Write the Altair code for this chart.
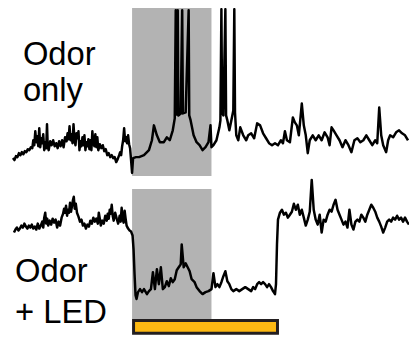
import altair as alt
import pandas as pd

# ---- data (x: time in px-like units, y: voltage in px-like units, larger = lower) ----
top_x = [13, 14.5, 16, 17.5, 19, 20.5, 22, 23.5, 25, 26.5, 28, 29.5, 31, 32.5, 33.5, 34.5, 35.5, 36.5, 37.5,
         38.5, 39.5, 40.5, 41.5, 42.5, 43.5, 44.5, 45.5, 46.5, 47.3, 48, 49, 50.5, 52, 53.5, 55, 56.5, 58, 59.5,
         61, 62.5, 64, 65.5, 67, 68, 69, 70, 71, 72, 73, 74, 75, 76, 77, 78, 79, 80, 81, 82, 83, 84, 85, 86, 87,
         88, 89, 90, 91, 92, 93, 94, 95, 96, 97, 98, 99, 100.5, 102, 103.5, 105, 106.5, 108, 109.5, 111, 112.5,
         114, 115.5, 117, 118.5, 120, 121, 122, 123, 124, 125, 126, 127, 128, 129, 130, 131, 132, 133, 134,
         137, 140, 145, 150, 153, 155, 158, 161, 165, 168, 171, 174, 176,
         177, 177.6, 179, 179.6, 182, 183.5, 184.2, 187, 190, 190.6, 192, 195, 198, 201, 204, 207, 210, 212, 213,
         215, 218, 221, 222, 223, 223.7, 225, 227, 227.7, 229, 231, 233, 235, 236, 236.7, 238, 240, 242, 245,
         248, 250, 253, 256, 259, 262, 265, 268, 271, 274, 277, 280, 283, 285, 287, 289, 292, 295, 297, 299,
         301, 304, 306, 308, 310, 312, 315, 318, 321, 324, 327, 330, 332, 334, 336, 339, 342, 345, 348, 351,
         354, 357, 360, 363, 366, 369, 372, 375, 378, 380, 382, 384, 386, 389, 391, 393, 396, 399, 402, 405,
         408, 411]
top_y = [158, 160, 156, 157, 153, 155, 152, 154, 151, 152, 149, 150, 147, 148, 140, 145, 131, 142, 136,
         146, 128, 147, 138, 143, 134, 150, 142, 148, 124, 146, 150, 141, 145, 140, 146, 143, 148, 141,
         146, 140, 147, 137, 141, 133, 139, 126, 140, 134, 143, 124, 140, 145, 133, 138, 131, 150, 141, 146, 137,
         145, 135, 150, 142, 146, 139, 149, 140, 150, 131, 143, 146, 134, 147, 137, 150, 144, 148, 145, 151,
         149, 155, 153, 157, 155, 158, 157, 162, 159, 155, 152, 155, 146, 140, 128, 141, 137, 143, 135, 144,
         148, 160, 173, 158,
         157, 157, 155, 150, 140, 125, 135, 142, 142, 137, 140, 130, 118,
         9, 114, 9, 115, 113, 9, 113, 112, 9, 115, 120, 135, 142, 145, 150, 147, 142, 125, 147,
         145, 140, 127, 120, 8, 112, 115, 8, 115, 120, 130, 120, 110, 8, 112, 135, 140, 127, 135,
         140, 135, 133, 138, 123, 125, 133, 138, 143, 145, 143, 145, 140, 143, 131, 140, 142, 117, 122, 125,
         135, 103, 125, 135, 153, 140, 135, 140, 135, 140, 132, 137, 145, 127, 130, 135, 140, 147, 140, 145,
         152, 140, 138, 142, 140, 135, 140, 145, 140, 143, 107, 135, 145, 152, 140, 135, 137, 132, 130, 133,
         135, 140]

bot_x = [14, 15.5, 17, 18.5, 20, 21.5, 23, 24.5, 26, 27.5, 29, 30.5, 32, 33.5, 35, 36.5, 38, 39.5, 41, 42.5,
         43.5, 44.5, 45.5, 46.5, 47.5, 48.5, 50, 51.5, 53, 54.5, 56, 57.5, 59, 60.5, 62, 63.5, 64.5, 65.5, 66.5,
         67.5, 68.5, 69.5, 70.5, 71.5, 72.5, 73.5, 74.3, 75.2, 76.3, 77.5, 79, 80.5, 82, 83.5, 85, 86.5, 88,
         89.5, 91, 92.5, 94, 95.5, 97, 98.5, 99.5, 100.5, 101.5, 103, 104.5, 106, 107.5, 108.5, 109.5, 110.5,
         111.5, 112.5, 113.5, 114.5, 116, 117.5, 119, 120.5, 121.5, 122.5, 123.5, 124.5, 125.5, 126.5, 127.5,
         129, 130.5, 132, 133.5, 134.5, 135.5, 136.5, 137.5,
         139, 141, 143, 145, 148, 150, 152, 154, 156, 158, 160, 162, 164, 166, 168,
         170, 172, 174, 176, 178, 180, 182, 183, 185, 187, 189, 191, 193, 196, 198, 201, 204, 207, 210, 213,
         215, 217, 219, 221, 223, 225, 227, 229, 231, 233, 235, 238, 241, 244, 247, 250, 253, 255, 257, 259,
         261, 263, 265, 267, 269, 271, 273, 275, 277, 278, 279, 280, 282, 284, 286, 288, 290, 292, 294, 296,
         298, 300, 302, 304, 306, 308, 310, 312, 314, 316, 318, 320, 322, 324, 326, 328, 330, 332, 334, 336,
         338, 340, 342, 344, 346, 348, 350, 352, 354, 356, 358, 360, 362, 364, 366, 368, 370, 372, 374, 376,
         378, 380, 382, 384, 386, 388, 390, 392, 394, 396, 398, 400, 402, 404, 406, 408, 410, 412]
bot_y = [233, 230, 228, 231, 229, 226, 228, 224, 227, 229, 226, 228, 225, 229, 227, 230, 224, 229, 226, 222,
         228, 218, 213, 224, 219, 226, 221, 225, 219, 223, 220, 228, 222, 226, 218, 214, 209, 213, 206,
         216, 210, 213, 203, 212, 206, 200, 197, 209, 204, 213, 217, 222, 220, 226, 224, 229, 225,
         227, 221, 224, 218, 222, 219, 224, 213, 219, 226, 221, 224, 216, 221, 214, 219, 210,
         214, 205, 216, 221, 213, 219, 224, 216, 222, 208, 219, 223, 211, 219, 226,
         229, 231, 232, 236, 250, 275, 296, 300,
         293, 290, 293, 290, 295, 292, 290, 273, 290, 270, 285, 268, 290, 288, 282,
         287, 279, 283, 280, 271, 268, 265, 245, 268, 264, 268, 272, 280, 283, 288, 292, 295, 293, 292, 290,
         274, 288, 285, 288, 283, 277, 272, 282, 285, 290, 292, 290, 292, 290, 288, 290, 292, 288, 290, 285,
         283, 285, 283, 285, 288, 285, 288, 292, 295, 285, 245, 220, 213, 210, 215, 213, 218, 215, 212, 204,
         210, 205, 215, 210, 218, 226, 220, 212, 180, 210, 220, 225, 215, 233, 220, 222, 215, 210, 212, 205,
         200, 210, 215, 220, 225, 222, 228, 210, 225, 230, 222, 220, 222, 215, 218, 222, 215, 210, 205, 208,
         212, 218, 222, 227, 233, 228, 222, 220, 222, 218, 220, 216, 220, 218, 222, 218, 222, 225]

# shaded odor windows and LED bar (x start/end, y top/bottom)
shade_x = [133, 133]
shade_x2 = [213, 213]
shade_y = [6, 189]
shade_y2 = [176, 320]
led_x, led_x2, led_y, led_y2 = [134.5], [279.5], [321.5], [334.5]

labels = ["Odor", "only", "Odor", "+ LED"]
label_x = [23, 23, 15, 15]
label_y = [64, 100, 283, 324]

# ---- build tables ----
traces = pd.concat([
    pd.DataFrame({"t": top_x, "v": top_y, "trace": "top", "i": range(len(top_x))}),
    pd.DataFrame({"t": bot_x, "v": bot_y, "trace": "bottom", "i": range(len(bot_x))}),
])
shade = pd.DataFrame({"x": shade_x, "x2": shade_x2, "y": shade_y, "y2": shade_y2})
led = pd.DataFrame({"x": led_x, "x2": led_x2, "y": led_y, "y2": led_y2})
lab = pd.DataFrame({"x": label_x, "y": label_y, "text": labels})

W, H = 404, 330
xs = alt.Scale(domain=[8, 8 + W], nice=False, zero=False)
ys = alt.Scale(domain=[8, 8 + H], nice=False, zero=False, reverse=True)

shade_layer = alt.Chart(shade).mark_rect(color="#b3b3b3").encode(
    x=alt.X("x:Q", scale=xs, axis=None), x2="x2:Q",
    y=alt.Y("y:Q", scale=ys, axis=None), y2="y2:Q")

led_layer = alt.Chart(led).mark_rect(color="#fdb913", stroke="#231f20", strokeWidth=3).encode(
    x=alt.X("x:Q", scale=xs, axis=None), x2="x2:Q",
    y=alt.Y("y:Q", scale=ys, axis=None), y2="y2:Q")

line_layer = alt.Chart(traces).mark_line(color="black", strokeWidth=2.5, strokeJoin="round").encode(
    x=alt.X("t:Q", scale=xs, axis=None),
    y=alt.Y("v:Q", scale=ys, axis=None),
    detail="trace:N", order="i:Q")

text_layer = alt.Chart(lab).mark_text(align="left", baseline="alphabetic", fontSize=33,
                                      font="Liberation Sans", color="black").encode(
    x=alt.X("x:Q", scale=xs, axis=None),
    y=alt.Y("y:Q", scale=ys, axis=None),
    text="text:N")

chart = alt.layer(shade_layer, led_layer, line_layer, text_layer).properties(
    width=W, height=H, padding=0, autosize=alt.AutoSizeParams(type="none")
).configure_view(stroke=None)

chart.save("out.html", embed_options={"renderer": "svg", "actions": False})
